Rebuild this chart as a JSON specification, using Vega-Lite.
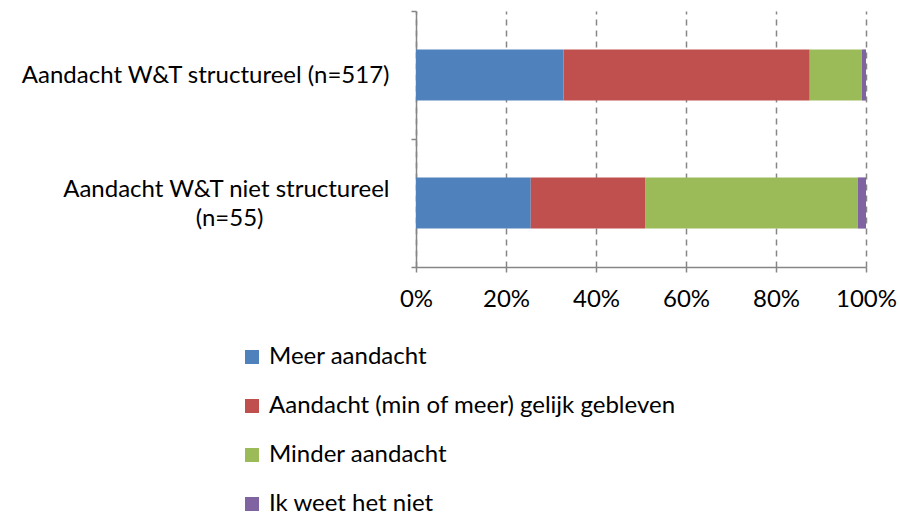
{
  "$schema": "https://vega.github.io/schema/vega-lite/v6.json",
  "autosize": "none",
  "width": 450,
  "height": 256,
  "padding": {"left": 416, "top": 11, "right": 34, "bottom": 249},
  "background": "white",
  "config": {
    "font": "Lato",
    "view": {"stroke": null},
    "axis": {"labelFont": "Lato", "labelFontSize": 24, "labelColor": "#000000", "domainColor": "#868686", "tickColor": "#868686", "domainWidth": 1.5, "tickWidth": 1.5}
  },
  "data": {
    "values": [
      {"cat": "Aandacht W&T structureel (n=517)", "resp": "Meer aandacht", "o": 1, "v": 0.328},
      {"cat": "Aandacht W&T structureel (n=517)", "resp": "Aandacht (min of meer) gelijk gebleven", "o": 2, "v": 0.547},
      {"cat": "Aandacht W&T structureel (n=517)", "resp": "Minder aandacht", "o": 3, "v": 0.116},
      {"cat": "Aandacht W&T structureel (n=517)", "resp": "Ik weet het niet", "o": 4, "v": 0.009},
      {"cat": "Aandacht W&T niet structureel (n=55)", "resp": "Meer aandacht", "o": 1, "v": 0.255},
      {"cat": "Aandacht W&T niet structureel (n=55)", "resp": "Aandacht (min of meer) gelijk gebleven", "o": 2, "v": 0.254},
      {"cat": "Aandacht W&T niet structureel (n=55)", "resp": "Minder aandacht", "o": 3, "v": 0.473},
      {"cat": "Aandacht W&T niet structureel (n=55)", "resp": "Ik weet het niet", "o": 4, "v": 0.018}
    ]
  },
  "mark": {"type": "bar", "height": {"band": 0.4}},
  "encoding": {
    "y": {
      "field": "cat", "type": "nominal", "sort": null, "title": null,
      "scale": {"paddingInner": 0, "paddingOuter": 0},
      "axis": {
        "tickBand": "extent", "tickSize": 5, "labelPadding": 22, "labelAlign": "right", "labelBaseline": "middle", "labelLineHeight": 29, "labelLimit": 420,
        "labelOffset": {"condition": {"test": "datum.value == 'Aandacht W&T niet structureel (n=55)'", "value": -14}, "value": 0},
        "labelExpr": "datum.value == 'Aandacht W&T niet structureel (n=55)' ? ['Aandacht W&T niet structureel', '(n=55)\u2800\u2800\u2800\u2800\u2800\u2800\u2800'] : datum.value"
      }
    },
    "x": {
      "field": "v", "type": "quantitative", "stack": "zero", "title": null,
      "scale": {"domain": [0, 1], "nice": false},
      "axis": {
        "values": [0, 0.2, 0.4, 0.6, 0.8, 1], "format": ".0%", "tickSize": 5, "labelPadding": 15,
        "grid": true, "gridColor": "#868686", "gridDash": [6, 5], "gridWidth": 1.5, "labelFlush": false
      }
    },
    "color": {
      "field": "resp", "type": "nominal", "title": null,
      "scale": {
        "domain": ["Meer aandacht", "Aandacht (min of meer) gelijk gebleven", "Minder aandacht", "Ik weet het niet"],
        "range": ["#4F81BD", "#C0504D", "#9BBB59", "#8064A2"]
      },
      "legend": {
        "orient": "none", "legendX": -176, "legendY": 334, "direction": "vertical", "columns": 1,
        "symbolType": "square", "symbolSize": 196, "symbolStrokeWidth": 0, "symbolOffset": 0,
        "labelFont": "Lato", "labelFontSize": 24, "labelColor": "#000000", "labelOffset": 5, "labelLimit": 600,
        "rowPadding": 25, "padding": 0
      }
    },
    "order": {"field": "o", "type": "quantitative"}
  }
}
